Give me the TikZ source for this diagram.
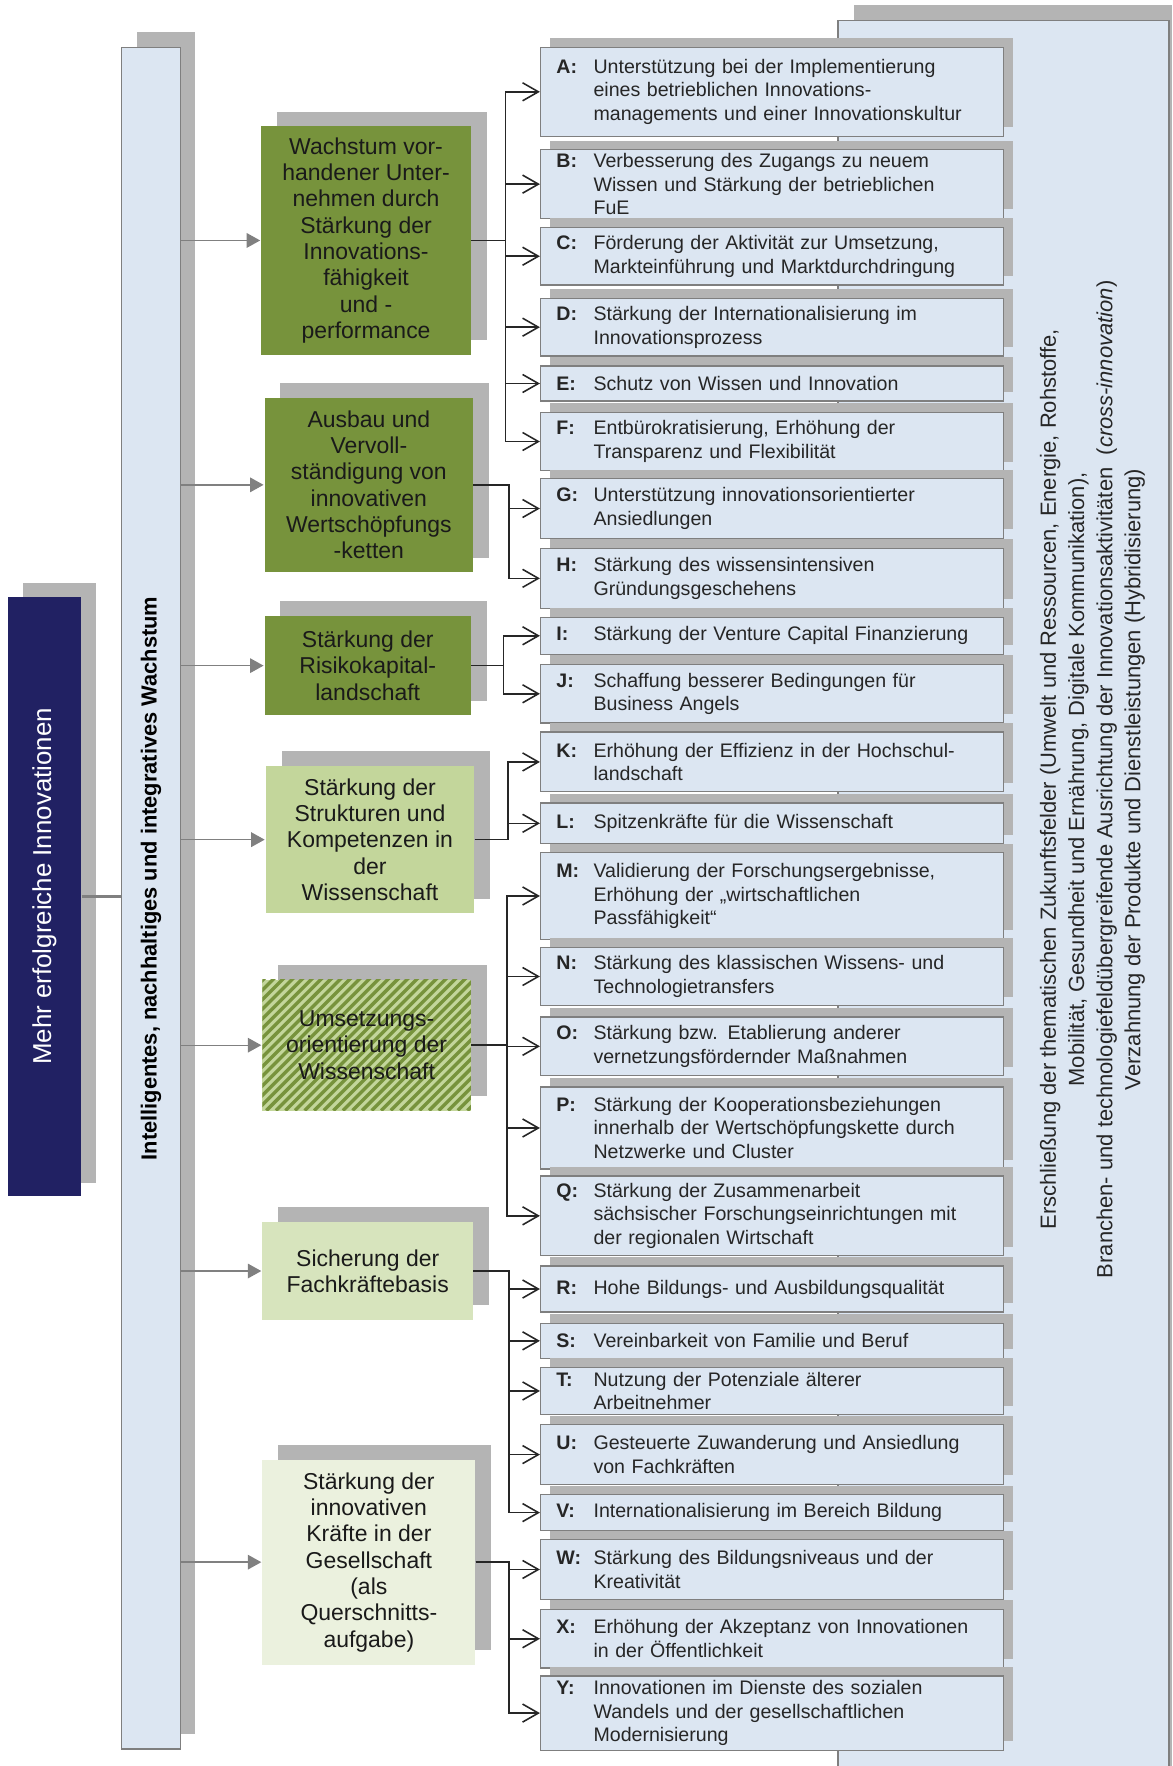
\documentclass[tikz,border=0pt]{standalone}
\usepackage{fontspec}
\usepackage{graphicx}
\setmainfont{Liberation Sans}
\usetikzlibrary{arrows.meta}

\definecolor{itemfill}{RGB}{220,230,242}
\definecolor{shadegray}{RGB}{180,180,180}
\definecolor{framegray}{RGB}{127,127,127}
\definecolor{navyblue}{RGB}{33,33,99}
\definecolor{gdark}{RGB}{119,147,60}
\definecolor{gmid}{RGB}{195,214,155}
\definecolor{glight}{RGB}{215,228,189}
\definecolor{gpale}{RGB}{235,241,222}
\definecolor{txt}{RGB}{38,38,38}
\definecolor{gtxt}{RGB}{26,26,26}
\definecolor{arrgray}{RGB}{128,128,128}

\newcommand\itemfont{\fontsize{8.7pt}{10.5pt}\selectfont}
\newcommand\gfont{\fontsize{10.2pt}{11.7pt}\selectfont}
\newcommand\nfont{\fontsize{11.5pt}{13pt}\selectfont}
\newcommand\cfont{\fontsize{9.7pt}{11pt}\selectfont\bfseries}
\newcommand\rfont{\fontsize{9.75pt}{12.5pt}\selectfont}

\tikzset{
  shadefill/.style={fill=shadegray},
  itembox/.style={draw=framegray, fill=itemfill, line width=0.6pt, text width=191.5pt,
    minimum width=205.5pt, inner xsep=7pt, inner ysep=0pt, align=left,
    font=\itemfont, text=txt},
  gbox/.style={inner sep=0pt, align=center, font=\gfont, text=gtxt},
  conn/.style={draw=txt, line width=0.7pt, -{Straight Barb[length=7pt,width=8pt]}},
  garr/.style={draw=arrgray, line width=0.6pt, -{Triangle[length=6pt,width=6.5pt]}, shorten >=0.3pt},
}

\newcommand\itm[5]{%
  \fill[shadefill] (488,#2-8) rectangle (899,#3-8);
  \node[itembox, minimum height={(#3-#2)*0.5pt}] (#1) at (685.5,{(#2+#3)/2})
    {\makebox[16.5pt][l]{\bfseries #4}\parbox[t]{175pt}{\raggedright #5}};
}
\newcommand\grn[7]{%
  \fill[shadefill] (#2+14,#3-13) rectangle (#4+14,#5-13);
  \node[gbox, fill=#6, minimum width={(#4-#2)*0.5pt}, minimum height={(#5-#3)*0.5pt}]
    (#1) at ({(#2+#4)/2},{(#3+#5)/2}) {#7};
}

\begin{document}
\begin{tikzpicture}[x=0.5pt,y=-0.5pt]
\useasboundingbox (0,0) rectangle (1041,1568);

% right background panel
\fill[shadefill] (758,4) rectangle (1041,1568);
\fill[itemfill] (744,18) rectangle (1038,1568);
\draw[framegray, line width=0.6pt] (744,1568) -- (744,18) -- (1038,18) -- (1038,1568);
\node[rotate=90, align=center, font=\rfont, text=txt] (fields) at (970,692)
 {Erschließung der thematischen Zukunftsfelder (Umwelt und Ressourcen, Energie, Rohstoffe,\\
  Mobilität, Gesundheit und Ernährung, Digitale Kommunikation),\\
  Branchen- und technologiefeldübergreifende Ausrichtung der Innovationsaktivitäten \ (\textit{cross-innovation})\\
  Verzahnung der Produkte und Dienstleistungen (Hybridisierung)};

% navy box
\fill[shadefill] (20,518) rectangle (85,1050);
\node[fill=navyblue, inner sep=0pt, minimum width=32.5pt, minimum height=266pt, text=white, font=\nfont]
  (navy) at (39.5,796) {\rotatebox{90}{\hspace*{9pt}Mehr erfolgreiche Innovationen}};

% column
\fill[shadefill] (122,28) rectangle (173,1540);
\node[draw=framegray, fill=itemfill, line width=0.6pt, inner sep=0pt, minimum width=26pt,
  minimum height=755.5pt, font=\cfont, text=black] (col) at (134,797.5)
  {\rotatebox{90}{\hspace*{17.5pt}Intelligentes, nachhaltiges und integratives Wachstum}};

\draw[draw=arrgray, line width=1.6pt] (navy.east) -- (navy.east -| col.west);

% green boxes
\grn{G1}{232}{112}{418}{315}{gdark}{Wachstum vor-\\handener Unter-\\nehmen durch\\Stärkung der\\Innovations-\\fähigkeit\\und -\\performance}
\grn{G2}{235}{353}{420}{508}{gdark}{Ausbau und\\Vervoll-\\ständigung von\\innovativen\\Wertschöpfungs\\-ketten}
\grn{G3}{235}{547}{418}{635}{gdark}{Stärkung der\\Risikokapital-\\landschaft}
\grn{G4}{236}{680}{421}{811}{gmid}{Stärkung der\\Strukturen und\\Kompetenzen in\\der\\Wissenschaft}
\grn{G5}{233}{870}{418}{986}{gmid, path picture={\foreach \k in {0,...,40}{\draw[gdark, line width=1.5pt] ([xshift=\k*4.25pt-62pt]path picture bounding box.south west) -- ++(80pt,80pt);}}}{Umsetzungs-\\orientierung der\\Wissenschaft}
\grn{G6}{233}{1085}{420}{1172}{glight}{Sicherung der\\Fachkräftebasis}
\grn{G7}{233}{1296}{422}{1478}{gpale}{Stärkung der\\innovativen\\Kräfte in der\\Gesellschaft\\(als\\Querschnitts-\\aufgabe)}

% item boxes
\itm{A}{42}{121}{A:}{Unterstützung bei der Implementierung\\eines betrieblichen Innovations-\\managements und einer Innovationskultur}
\itm{B}{133}{194}{B:}{Verbesserung des Zugangs zu neuem\\Wissen und Stärkung der betrieblichen\\FuE}
\itm{C}{202}{253}{C:}{Förderung der Aktivität zur Umsetzung,\\Markteinführung und Marktdurchdringung}
\itm{D}{265}{316}{D:}{Stärkung der Internationalisierung im\\Innovationsprozess}
\itm{E}{325}{356}{E:}{Schutz von Wissen und Innovation}
\itm{F}{366}{418}{F:}{Entbürokratisierung, Erhöhung der\\Transparenz und Flexibilität}
\itm{G}{425}{478}{G:}{Unterstützung innovationsorientierter\\Ansiedlungen}
\itm{H}{487}{540}{H:}{Stärkung des wissensintensiven\\Gründungsgeschehens}
\itm{I}{548}{581}{I:}{Stärkung der Venture Capital Finanzierung}
\itm{J}{590}{642}{J:}{Schaffung besserer Bedingungen für\\Business Angels}
\itm{K}{650}{703}{K:}{Erhöhung der Effizienz in der Hochschul-\\landschaft}
\itm{L}{713}{749}{L:}{Spitzenkräfte für die Wissenschaft}
\itm{M}{757}{834}{M:}{Validierung der Forschungsergebnisse,\\Erhöhung der „wirtschaftlichen\\Passfähigkeit“}
\itm{N}{841}{893}{N:}{Stärkung des klassischen Wissens- und\\Technologietransfers}
\itm{O}{903}{955}{O:}{Stärkung bzw. Etablierung anderer\\vernetzungsfördernder Maßnahmen}
\itm{P}{965}{1038}{P:}{Stärkung der Kooperationsbeziehungen\\innerhalb der Wertschöpfungskette durch\\Netzwerke und Cluster}
\itm{Q}{1044}{1115}{Q:}{Stärkung der Zusammenarbeit\\sächsischer Forschungseinrichtungen mit\\der regionalen Wirtschaft}
\itm{R}{1124}{1165}{R:}{Hohe Bildungs- und Ausbildungsqualität}
\itm{S}{1175}{1206}{S:}{Vereinbarkeit von Familie und Beruf}
\itm{T}{1214}{1256}{T:}{Nutzung der Potenziale älterer\\Arbeitnehmer}
\itm{U}{1265}{1318}{U:}{Gesteuerte Zuwanderung und Ansiedlung\\von Fachkräften}
\itm{V}{1327}{1359}{V:}{Internationalisierung im Bereich Bildung}
\itm{W}{1367}{1420}{W:}{Stärkung des Bildungsniveaus und der\\Kreativität}
\itm{X}{1429}{1481}{X:}{Erhöhung der Akzeptanz von Innovationen\\in der Öffentlichkeit}
\itm{Y}{1488}{1554}{Y:}{Innovationen im Dienste des sozialen\\Wandels und der gesellschaftlichen\\Modernisierung}

% gray arrows from column to green boxes
\foreach \g in {G1,G2,G3,G4,G5,G6,G7}
  \draw[garr] (col.east |- \g.west) -- (\g.west);

% trunks
\coordinate (t1) at (449,0);
\coordinate (t2) at (452,0);
\coordinate (t3) at (447,0);
\coordinate (t4) at (451,0);
\coordinate (t5) at (450,0);
\coordinate (t6) at (452,0);
\coordinate (t7) at (452,0);

\foreach \i in {A,B,C,D,E,F} \draw[conn] (G1.east) -- (G1.east -| t1) |- (\i.west);
\foreach \i in {G,H} \draw[conn] (G2.east) -- (G2.east -| t2) |- (\i.west);
\foreach \i in {I,J} \draw[conn] (G3.east) -- (G3.east -| t3) |- (\i.west);
\foreach \i in {K,L} \draw[conn] (G4.east) -- (G4.east -| t4) |- (\i.west);
\foreach \i in {M,N,O,P,Q} \draw[conn] (G5.east) -- (G5.east -| t5) |- (\i.west);
\foreach \i in {R,S,T,U,V} \draw[conn] (G6.east) -- (G6.east -| t6) |- (\i.west);
\foreach \i in {W,X,Y} \draw[conn] (G7.east) -- (G7.east -| t7) |- (\i.west);

\end{tikzpicture}
\end{document}
